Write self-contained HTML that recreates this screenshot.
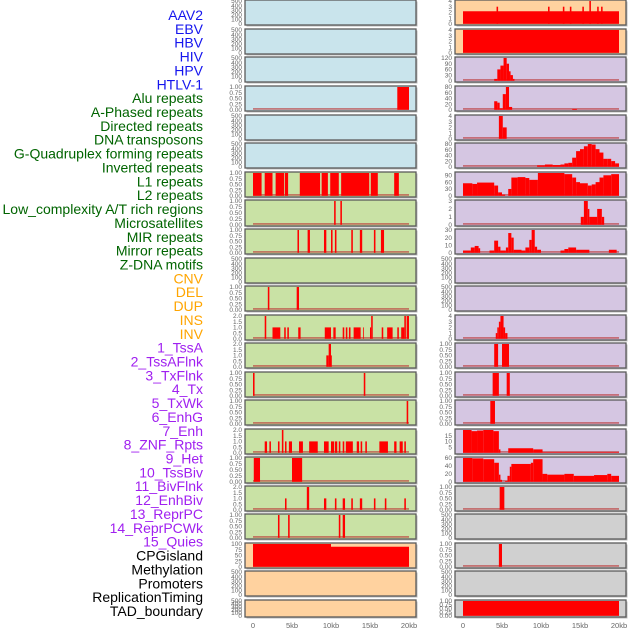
<!DOCTYPE html>
<html><head><meta charset="utf-8">
<style>
html,body{margin:0;padding:0;background:#fff;}
svg{display:block;}
.lbl{font-family:"Liberation Sans",sans-serif;font-size:14px;}
.tk{font-family:"Liberation Sans",sans-serif;font-size:6.5px;fill:#666;}
.xt{font-family:"Liberation Sans",sans-serif;font-size:7.5px;fill:#666;}
</style></head>
<body>
<svg id="chart" width="630" height="630" viewBox="0 0 630 630" xmlns="http://www.w3.org/2000/svg"></svg>
<script>
// ---------- data ----------
const labels = ["AAV2","EBV","HBV","HIV","HPV","HTLV-1",
"Alu repeats","A-Phased repeats","Directed repeats","DNA transposons","G-Quadruplex forming repeats","Inverted repeats","L1 repeats","L2 repeats","Low_complexity A/T rich regions","Microsatellites","MIR repeats","Mirror repeats","Z-DNA motifs",
"CNV","DEL","DUP","INS","INV",
"1_TssA","2_TssAFlnk","3_TxFlnk","4_Tx","5_TxWk","6_EnhG","7_Enh","8_ZNF_Rpts","9_Het","10_TssBiv","11_BivFlnk","12_EnhBiv","13_ReprPC","14_ReprPCWk","15_Quies",
"CPGisland","Methylation","Promoters","ReplicationTiming","TAD_boundary"];
const labelGroups = [6,13,5,15,5];
const xTicks = [0,5,10,15,20];
const xTickLabels = ["0","5kb","10kb","15kb","20kb"];

// tick sets
const T500 = [0,100,200,300,400,500];
const T1 = [0,0.25,0.5,0.75,1.0];
const T2 = [0,0.5,1.0,1.5,2.0];
const T100 = [0,25,50,75,100];
const T4 = [0,1,2,3,4];

// left panels: [startKb, endKb, value]
const L01 = [], L02 = [], L03 = [];
const L04 = [[18.5,20,1]];
const L05 = [], L06 = [];
const L07 = [[0,1.1,1],[1.5,2.5,1],[2.9,4.0,1],[4.1,4.5,1],[6.0,8.6,1],[8.8,9.6,1],[9.9,11.0,1],[11.3,14.9,1],[15.1,16.0,1],[18.1,18.7,1]];
const L08 = [[10.4,10.6,1],[11.2,11.4,1]];
const L09 = [[5.7,5.9,1],[7.0,7.3,1],[9.1,9.4,1],[10.0,10.2,1],[10.5,10.7,1],[12.6,12.8,1],[13.7,14.0,1],[15.5,15.7,1],[16.4,16.8,1]];
const L10 = [];
const L11 = [[1.9,2.1,1],[5.6,5.9,1]];
const L12 = [[1.5,1.7,2],[2.5,3.5,1],[4.0,4.2,1],[4.4,4.6,1],[5.8,6.1,1],[9.2,10.0,1],[10.3,10.6,1],[11.5,11.7,1],[11.9,12.1,1],[12.3,12.5,1],[12.9,13.8,1],[14.1,14.2,1],[15.0,15.15,1],[15.15,15.35,2],[16.5,16.7,1],[17.2,17.9,1],[18.5,18.7,1],[19.0,19.4,1],[19.4,19.6,2],[19.7,20.0,2]];
const L13 = [[9.4,9.7,1],[9.7,10.0,2],[10.0,10.1,1]];
const L14 = [[0,0.2,1],[14.2,14.4,1]];
const L15 = [[19.7,19.9,1]];
const L16 = [[1.5,1.8,1],[2.1,2.3,1],[3.2,3.4,1],[3.7,3.9,2],[4.1,4.3,1],[4.6,5.0,1],[5.9,6.4,1],[7.2,8.3,1],[9.1,9.7,1],[10.0,10.4,1],[10.5,10.8,1],[11.0,11.2,1],[11.5,11.7,1],[11.9,12.8,1],[13.3,13.6,1],[13.8,14.0,1],[14.4,14.6,1],[16.2,17.3,1],[18.1,18.4,1],[18.8,19.2,1],[19.4,19.6,1]];
const L17 = [[0.1,0.9,1],[5.0,6.3,1]];
const L18 = [[4.1,4.3,1],[6.9,7.2,2],[9.1,9.4,1],[10.5,10.7,1],[11.5,11.8,1],[12.6,12.8,1],[13.7,14.0,1],[15.5,15.7,1],[16.9,17.1,1],[19.4,19.6,1]];
const L19 = [[3.2,3.4,1],[4.5,4.7,1],[11.0,11.2,1],[11.5,11.8,1]];
const L20 = [[0,10,100],[10,20,88]];
const L21 = [], L22 = [];

// right panels
const R01 = [[0,20,2.2],[4.3,4.5,3],[10.9,11.1,3],[12.8,13.0,3],[13.7,13.9,3],[15.3,15.5,3],[16.2,16.4,4],[17.2,17.4,3],[17.7,17.9,3]];
const R02 = [[0,20,4]];
const R03 = [[4.0,4.4,10],[4.4,4.8,60],[4.8,5.2,80],[5.2,5.6,120],[5.6,5.9,90],[5.9,6.1,50],[6.1,6.4,30],[6.4,6.6,10]];
const R04 = [[4.0,4.4,30],[4.4,4.7,25],[4.7,5.1,5],[5.1,5.5,55],[5.5,5.9,80],[5.9,6.3,10],[14.0,14.6,3]];
const R05 = [[4.6,5.1,4],[5.1,5.6,2]];
const R06 = [[9.5,10.5,5],[10.5,11.5,8],[11.5,12.5,6],[12.5,13,8],[13,13.5,12],[13.5,14,14],[14,14.5,32],[14.5,15,55],[15,15.5,62],[15.5,16,72],[16,16.5,80],[16.5,17,78],[17,17.5,62],[17.5,18,50],[18,18.5,28],[18.5,19,28],[19,19.5,20],[19.5,20,12]];
const R07 = [[0,1.2,55],[1.2,1.8,52],[1.8,4.0,58],[4.0,4.5,45],[4.5,5.0,15],[5.0,5.4,5],[5.8,6.2,30],[6.2,7.0,80],[7.0,8.0,82],[8.0,8.5,78],[8.5,9.6,70],[9.6,13.0,100],[13.0,14.0,95],[14.0,14.5,80],[14.5,15.0,60],[15.0,16.0,55],[16.0,16.5,45],[16.5,17.0,50],[17.0,17.5,60],[17.5,18.0,80],[18.0,19.0,90],[19.0,20.0,95]];
const R08 = [[15.1,15.5,1],[15.5,16.0,3],[16.0,16.2,2],[16.2,17.2,1],[17.2,17.8,2],[17.8,18.1,1]];
const R09 = [[0,1,3],[1,1.5,7],[1.5,2,9],[2,2.2,6],[3.4,4,3],[4,4.5,16],[4.5,4.8,8],[4.8,5.5,3],[5.5,5.8,7],[5.8,6.2,26],[6.2,6.5,20],[6.5,7.5,4],[7.5,8,3],[8,8.5,7],[8.5,8.8,17],[8.8,9.2,30],[9.2,9.5,8],[9.5,10,4],[12.5,13,3],[13,13.5,5],[13.5,14.5,7],[14.5,16.2,4],[18.7,19.7,4]];
const R10 = [], R11 = [];
const R12 = [[4.2,4.4,1],[4.4,4.6,2],[4.6,4.8,3],[4.8,5.2,4],[5.2,5.4,2],[5.4,5.7,1]];
const R13 = [[4.0,4.5,1],[5.0,5.9,1]];
const R14 = [[3.8,4.6,1],[5.6,6.0,1]];
const R15 = [[3.5,4.1,1]];
const R16 = [[0,1.1,20],[1.1,1.8,19],[1.8,2.6,19.5],[2.6,3.9,20],[3.9,4.6,19],[4.6,4.8,3],[5.8,9.0,4],[9.0,10.2,3],[10.2,20,0.5]];
const R17 = [[0,1.2,60],[1.2,2.6,59],[2.6,4.0,57],[4.0,4.6,48],[4.6,4.8,18],[4.8,5.0,5],[5.4,5.7,2],[5.7,6.0,15],[6.0,6.2,38],[6.2,8.7,45],[8.7,9.0,48],[9.0,10.2,57],[10.2,10.8,20],[10.8,13.0,18],[13.0,14.2,20],[14.2,16.8,15],[16.8,18.5,17],[18.5,19.0,20],[19.0,20.0,15]];
const R18 = [[4.7,5.3,1]];
const R19 = [];
const R20 = [[4.6,5.0,1]];
const R21 = [];
const R22 = [[0,20,1]];

// ---------- layout ----------
const rowTop = [0,29,57,86,115,143,172,200,229,258,286,315,343,372,400,429,457,486,514,543,571,600];
const rowH = [25,25,25,25,25,25,25,26,25,25,25,25,25,25,25,25,26,25,25,25,25,17];
const C_BLUE="#c9e4ec", C_GREEN="#c9e2a5", C_PEACH="#ffd29f", C_PURP="#d5c6e2", C_GRAY="#d0d0d0";
const left = [
 [L01,500,T500,C_BLUE],[L02,500,T500,C_BLUE],[L03,500,T500,C_BLUE],[L04,1,T1,C_BLUE],[L05,500,T500,C_BLUE],[L06,500,T500,C_BLUE],
 [L07,1,T1,C_GREEN],[L08,1,T1,C_GREEN],[L09,1,T1,C_GREEN],[L10,500,T500,C_GREEN],[L11,1,T1,C_GREEN],[L12,2,T2,C_GREEN],[L13,2,T2,C_GREEN],
 [L14,1,T1,C_GREEN],[L15,1,T1,C_GREEN],[L16,2,T2,C_GREEN],[L17,1,T1,C_GREEN],[L18,2,T2,C_GREEN],[L19,1,T1,C_GREEN],
 [L20,100,T100,C_PEACH],[L21,500,T500,C_PEACH],[L22,500,T500,C_PEACH]];
const right = [
 [R01,4,T4,C_PEACH],[R02,4,T4,C_PEACH],[R03,120,[0,30,60,90,120],C_PURP],[R04,80,[0,20,40,60,80],C_PURP],[R05,4,T4,C_PURP],[R06,80,[0,20,40,60,80],C_PURP],
 [R07,100,[0,30,60,90],C_PURP],[R08,3,[0,1,2,3],C_PURP],[R09,30,[0,10,20,30],C_PURP],[R10,500,T500,C_PURP],[R11,500,T500,C_PURP],[R12,4,T4,C_PURP],
 [R13,1,T1,C_PURP],[R14,1,T1,C_PURP],[R15,1,T1,C_PURP],[R16,20,[5,10,15],C_PURP],[R17,60,[0,20,40,60],C_PURP],
 [R18,1,T1,C_GRAY],[R19,500,T500,C_GRAY],[R20,1,T1,C_GRAY],[R21,500,T500,C_GRAY],[R22,1,T1,C_GRAY]];

const svg = document.getElementById('chart');
const NS = "http://www.w3.org/2000/svg";
function mk(tag, attrs, parent){
  const e = document.createElementNS(NS, tag);
  for (const k in attrs) e.setAttribute(k, attrs[k]);
  (parent||svg).appendChild(e);
  return e;
}
function fmt(v, ticks){
  const mx = Math.max(...ticks);
  if (mx === 1) return v.toFixed(2);
  if (mx === 2) return v.toFixed(1);
  return String(v);
}

// labels
const groupColors = ["#1515ee","#006400","#ffa500","#a020f0","#000000"];
let gi = 0, gcount = 0;
labels.forEach((t,i)=>{
  while (gcount >= labelGroups[gi]) { gcount -= labelGroups[gi]; gi++; }
  gcount++;
  const e = mk('text',{x:203,y:20+i*13.86,'text-anchor':'end','class':'lbl',fill:groupColors[gi]});
  e.textContent = t;
  
  
});

function panel(cfg, r, px, side){
  const [data, ymax, ticks, bg] = cfg;
  const top = rowTop[r], h = rowH[r], W = 171;
  const g = mk('g',{});
  
  
  mk('rect',{x:px+1.5,y:top+1.5,width:W,height:h,fill:'#bbb'},g);
  mk('rect',{x:px,y:top,width:W,height:h,fill:bg,stroke:'#5a5a5a','stroke-width':1.3},g);
  const x0 = px + 8, xs = 7.8;
  const xS = kb => x0 + kb*xs;
  const yb = top + h - 1.2, yt = top + 1;
  const yS = v => yb - v/ymax*(yb-yt);
  ticks.forEach(t=>{
    const e = mk('text',{x:px-3,y:yS(t)+2.2,'text-anchor':'end','class':'tk'},g);
    e.textContent = fmt(t, ticks);
    
    
  });
  if (data.length){
    mk('rect',{x:xS(0),y:yb-1.8,width:xS(20)-xS(0),height:1.8,fill:'#b33','opacity':0.6},g);
  }
  data.forEach(d=>{
    const b = mk('rect',{x:xS(d[0]),y:yS(d[2]),width:Math.max(xS(d[1])-xS(d[0]),0.8),height:yb-yS(d[2]),fill:'#ff0000'},g);
    
    
  });
}
left.forEach((c,r)=>panel(c,r,245,'left'));
right.forEach((c,r)=>panel(c,r,455,'right'));

// x axes
[253,463].forEach(x0=>{
  xTicks.forEach((t,i)=>{
    const e = mk('text',{x:x0+t*7.8,y:628,'text-anchor':'middle','class':'xt'});
    e.textContent = xTickLabels[i];
    
    
  });
});
</script>
</body></html>
